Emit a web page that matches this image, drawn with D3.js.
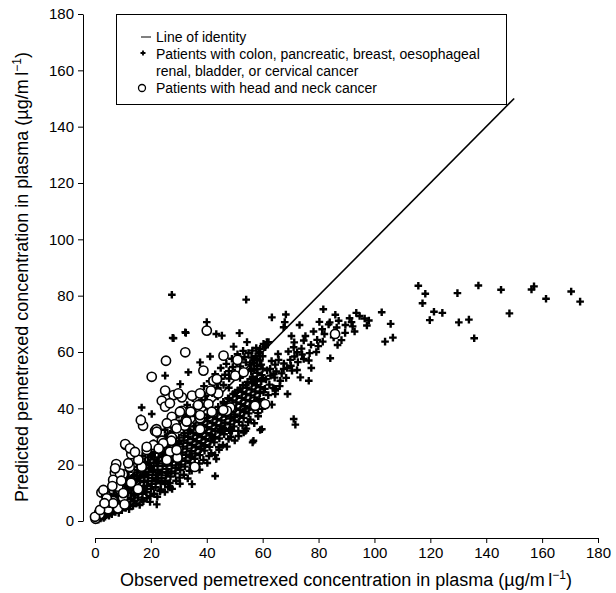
<!DOCTYPE html>
<html lang="en">
<head>
    <meta charset="UTF-8">
    <title>Observed vs predicted pemetrexed</title>
    <script src="https://d3js.org/d3.v7.min.js"></script>
    <style>
        body {
            margin: 0;
            padding: 0;
            background: #fff;
            font-family: Arial, "Liberation Sans", sans-serif;
        }
        .axis text {
            font-size: 15px;
            fill: #000;
        }
        .axis path, .axis line {
            stroke: #000;
        }
        .title {
            font-size: 18px;
        }
        .legend-text {
            font-size: 14px;
        }
    </style>
</head>
<body>
    <div id="chart"></div>
    <script>
        const width = 616;
        const height = 593;

        // Ticks
        const xTicks = [0, 20, 40, 60, 80, 100, 120, 140, 160, 180];
        const yTicks = [0, 20, 40, 60, 80, 100, 120, 140, 160, 180];

        // Line of identity end points (observed, predicted)
        const identity = [[0, 0], [150, 150]];

        // Patients with colon, pancreatic, breast, oesophageal, renal, bladder, cervical cancer
        // [observed, predicted]
        const otherCancer = [
            [115.7,83.5],[118.2,80.7],[117.2,77.3],[121.3,74.3],[124.3,73.9],[119.8,71.3],[129.7,80.9],[130.2,70.5],
            [133.8,71.5],[135.7,64.9],[137.2,83.6],[145.3,82.1],[148.3,73.7],[156.2,82.2],[157.1,83.3],[161.4,78.9],
            [170.4,81.5],[173.6,77.9],
            [102.6,74.1],[105.8,70],[103.8,63.7],[106.6,65.1],
            [63.3,72.3],[68.3,73.3],[67.9,70.6],[67.5,68.8],[73.2,69.6],[81.7,75.2],[86,73.2],[93.5,73.9],[80.3,70.7],
            [84,70.5],[81.3,68.1],[86.5,68.7],[91.1,72],[89.6,69.6],[92.2,69.1],[92.9,67.3],[96.5,71.9],[98,71.2],
            [70.3,65.7],[74.7,64.1],[77.3,62.6],[79.5,64.3],[81.5,63.7],[88.2,64.2],[86.8,62.5],[79.2,60],[84.2,57.8],
            [71.1,61.7],[72.3,59.9],[71.4,58.4],[74.1,59.1],[74.7,57.5],[76.5,57],[77.4,54.3],[69.9,57.2],[65.7,57.2],
            [64.5,55.5],[67.5,54],[68.7,54.3],[70.5,53.4],[72.3,53.6],[73.5,51],[76.5,49.8],[62.7,54],[63.9,52.2],
            [66.3,49.8],[60.3,62.9],[61.5,63.5],[60.9,61.7],[56.7,49.8],[57.9,50],[60.3,45.7],[64.5,46.3],[64.5,45.1],
            [68.9,45.1],[63.3,41.3],[71.1,36.2],[71.7,34.2],[59.7,32.6],
            [56,54],[57,56],[58,55],[59,57],[57.5,58.5],[58.5,59.5],[56.5,57],[59.5,55.5],[55.5,55.5],[57,53.5],
            [58,57.5],[60,58.5],[56,58],[59,60],
            [27.8,65],[32.3,67],[43.4,66.4],[45.4,65.8],[51.7,66.7],[49.6,61.9],[54.4,63.5],[61,62.3],[62.1,63.5],
            [41.2,58.4],[33.4,52.8],[37.6,56.3],[25.1,51.6],[30.5,48.6],[44.8,32.6],[48.4,32],[53.8,32],[59.1,32.3],
            [56.7,28.5],[42.4,29.6],[40,70.6],[27.5,80.3],[28.1,64.9],[32.5,66.8],[54.1,78.6],
            [16.7,40.3],[20.3,38],[16.4,36.5],[22.1,5.9],[26.9,11.9],[25.1,13.1],[34.7,13.1],[43,16],[43.4,22],
            [46.2,32],[49,32],[53.2,31.4],[56.4,27.9],[64.5,46.9],[22.6,16.6],[26.2,17.2],
            [0.4,0.8],[0.9,1.9],[1.2,0.5],[1.5,2.8],[1.8,1.4],[2.1,3.6],[2.4,2.2],[2.7,4.4],[2.9,1.6],[3.2,3.1],
            [3.4,5.2],[3.7,2.5],[3.9,4.1],[4.2,6.3],[4.4,3.3],[4.6,5.1],[4.9,7.4],[5.1,2.9],[5.3,4.6],[5.6,6.2],
            [5.8,8.3],[6.1,3.8],[6.3,5.4],[6.5,7.1],[6.8,9.2],[7.0,4.6],[7.2,6.5],[7.5,8.1],[7.7,10.4],[7.9,3.9],
            [8.2,5.7],[8.4,7.4],[8.6,9.3],[8.9,11.6],[9.1,4.8],[9.3,6.6],[9.5,8.5],[9.8,10.2],[10.0,12.8],[10.2,5.4],
            [10.5,7.5],[10.7,9.4],[10.9,11.3],[11.2,13.6],[11.4,6.2],[11.6,8.3],[11.9,10.1],[12.1,12.2],[12.3,14.7],
            [12.6,5.9],[12.8,7.9],[13.0,9.8],[13.3,11.7],[13.5,13.6],[13.7,15.9],[14.0,7.1],[14.2,9.0],[14.4,11.1],
            [14.7,12.9],[14.9,14.8],[15.1,17.2],[15.4,8.3],[15.6,10.4],[15.8,12.3],[16.1,14.2],[16.3,16.1],[16.5,18.6],
            [16.8,7.6],[17.0,9.7],[17.2,11.6],[17.5,13.8],[17.7,15.6],[17.9,17.5],[18.2,19.8],[18.4,10.2],[18.6,12.5],
            [18.9,14.3],[19.1,16.4],[19.3,18.6],[19.6,20.7],[19.8,8.9],[20.0,11.4],[20.3,13.2],[20.5,15.3],[20.7,17.4],
            [21.0,19.5],[21.2,21.8],[21.4,24.2],[21.7,12.0],[21.9,14.1],[22.1,16.3],[22.4,18.2],[22.6,20.4],[22.8,22.6],
            [23.1,25.1],[23.3,10.6],[23.5,13.4],[23.8,15.2],[24.0,17.3],[24.2,19.5],[24.5,21.4],[24.7,23.6],[24.9,26.3],
            [25.2,14.3],[25.4,16.2],[25.6,18.4],[25.9,20.3],[26.1,22.5],[26.3,24.6],[26.6,27.2],[26.8,13.5],[27.0,15.8],
            [27.3,17.6],[27.5,19.7],[27.7,21.9],[28.0,23.8],[28.2,26.0],[28.4,28.4],[28.7,16.9],[28.9,18.8],[29.1,21.1],
            [29.4,23.0],[29.6,25.2],[29.8,27.3],[30.1,29.6],[30.3,15.4],[30.5,18.1],[30.8,20.0],[31.0,22.2],[31.2,24.3],
            [31.5,26.4],[31.7,28.6],[31.9,31.2],[32.2,19.3],[32.4,21.4],[32.6,23.5],[32.9,25.7],[33.1,27.8],[33.3,29.9],
            [33.6,32.3],[33.8,17.8],[34.0,20.6],[34.3,22.7],[34.5,24.8],[34.7,27.0],[35.0,29.1],[35.2,31.3],[35.4,33.6],
            [35.7,22.1],[35.9,24.0],[36.1,26.2],[36.4,28.3],[36.6,30.5],[36.8,32.6],[37.1,35.0],[37.3,20.4],[37.5,23.4],
            [37.8,25.5],[38.0,27.6],[38.2,29.8],[38.5,31.9],[38.7,34.1],[38.9,36.4],[39.2,25.0],[39.4,26.9],[39.6,29.0],
            [39.9,31.2],[40.1,33.3],[40.3,35.5],[40.6,37.8],[40.8,23.1],[41.0,26.3],[41.3,28.4],[41.5,30.5],[41.7,32.6],
            [42.0,34.8],[42.2,37.0],[42.4,39.2],[42.7,27.9],[42.9,29.8],[43.1,31.9],[43.4,34.0],[43.6,36.2],[43.8,38.3],
            [44.1,40.5],[44.3,26.2],[44.5,29.3],[44.8,31.4],[45.0,33.5],[45.2,35.7],[45.5,37.8],[45.7,39.9],[45.9,42.3],
            [46.2,30.8],[46.4,32.7],[46.6,34.9],[46.9,37.1],[47.1,39.2],[47.3,41.3],[47.6,43.6],[47.8,29.1],[48.0,32.2],
            [48.3,34.3],[48.5,36.4],[48.7,38.6],[49.0,40.7],[49.2,42.8],[49.4,45.1],[49.7,33.6],[49.9,35.7],[50.1,37.8],
            [50.4,40.0],[50.6,42.1],[50.8,44.3],[51.1,46.4],[51.3,32.0],[51.5,35.2],[51.8,37.3],[52.0,39.4],[52.2,41.6],
            [52.5,43.7],[52.7,45.8],[52.9,48.2],[53.2,36.6],[53.4,38.7],[53.6,40.8],[53.9,43.0],[54.1,45.1],[54.3,47.3],
            [54.6,49.4],[54.8,35.1],[55.0,38.2],[55.3,40.3],[55.5,42.5],[55.7,44.6],[56.0,46.7],[56.2,48.9],[56.4,51.2],
            [56.7,39.6],[56.9,41.8],[57.1,43.9],[57.4,46.0],[57.6,48.2],[57.8,50.3],[58.1,52.6],[58.3,38.3],[58.5,41.1],
            [58.8,43.2],[59.0,45.4],[59.2,47.5],[59.5,49.6],[59.7,51.8],[60.0,54.1],[60.4,42.6],[60.8,46.9],[61.2,50.3],
            [61.6,53.5],[62.0,44.7],[62.4,48.4],[62.8,51.6],[63.2,56.8],[63.8,47.2],[64.3,50.9],[64.9,53.1],[65.5,59.3],
            [66.1,47.9],[66.8,52.4],[67.6,55.9],[68.4,50.8],[69.2,60.2],[70.1,55.1],[71.3,63.4],[72.6,56.4],[73.9,61.2],
            [75.3,65.7],[76.8,59.6],[78.2,67.3],[79.9,62.1],[82.1,66.4],[83.6,69.8],[85.4,65.2],[87.2,71.1],[89.5,66.8],
            [91.8,70.6],[94.7,72.8],[97.3,69.4],
            [3,6.8],[5,9.6],[7,11.8],[9,13.9],[11,16.2],[13,18.4],[15,20.5],[17,23.1],[19,25.4],[21,27.6],[23,29.8],
            [25,32.4],[27,34.1],[29,36.8],[31,38.9],[33,41.2],[35,43.6],[37,45.3],[39,47.9],[41,49.6],[43,52.1],
            [45,54.3],[47,55.8],[49,57.6],[51,59.2],[53,60.4],[4,8.1],[8,12.9],[12,17.6],[16,21.9],[20,24.6],[24,28.3],
            [28,31.7],[32,35.4],[36,39.8],[40,42.9],[44,47.2],[48,50.6],[52,54.9],[26,30.6],[30,33.9],[34,37.7],
            [38,41.6],[42,45.4],[46,48.3],[50,52.7],[54,56.3],
            [1.0,3.4],[2.0,0.9],[3.0,4.6],[3.6,1.5],[4.5,6.9],[5.0,1.9],[5.5,7.7],[6.0,2.4],[6.6,8.5],[7.3,3.2],
            [7.8,9.3],[8.5,2.9],[9.0,10.4],[9.6,3.8],[10.3,11.9],[11.0,4.6],[11.5,12.7],[12.2,4.2],[12.9,14.4],
            [13.6,5.3],[14.1,16.3],[14.8,6.2],[15.3,18.1],[16.0,5.7],[16.6,19.8],[17.3,7.0],[17.9,21.0],[18.5,8.1],
            [19.0,22.6],[19.7,6.8],[20.4,23.4],[21.1,9.7],[21.6,25.9],[22.3,8.6],[22.9,27.1],[23.6,11.2],[24.3,28.7],
            [25.0,10.3],[25.6,29.9],[26.2,12.1],[26.9,31.0],[27.6,11.4],[28.3,32.6],[29.0,14.3],[29.7,34.2],[30.4,13.2],
            [31.1,35.6],[31.8,16.4],[32.5,37.1],[33.2,15.1],[33.9,38.7],[34.6,17.9],[35.3,40.2],[36.0,19.3],[36.7,41.5],
            [37.4,18.2],[38.1,43.0],[38.8,21.7],[39.5,44.4],[40.2,20.6],[40.9,46.0],[41.6,24.1],[42.3,47.3],[43.0,23.4],
            [43.7,48.8],[44.4,25.3],[45.1,50.5],[45.8,27.0],[46.5,51.9],[47.2,26.4],[47.9,53.2],[48.6,29.9],[49.3,54.7],
            [50.0,28.6],[50.7,56.1],[51.4,30.2],[52.1,57.4],[52.8,33.9],[53.5,58.2],[54.2,32.8],[54.9,59.6],[55.6,36.0],
            [56.3,60.5],[57.0,34.7],[57.7,61.4],[58.4,37.2],[59.1,61.1],[59.8,39.8],
            [2.2,2.9],[4.0,5.7],[6.2,6.9],[8.0,9.0],[10.1,10.0],[12.0,11.2],[14.1,13.8],[16.0,15.4],[18.0,16.6],
            [20.1,18.9],[22.0,20.9],[24.1,22.8],[26.0,24.1],[28.1,25.4],[30.0,28.1],[32.0,30.3],[34.1,31.9],[36.0,33.7],
            [38.1,35.2],[40.0,36.6],[42.1,38.4],[44.0,39.3],[46.1,41.7],[48.0,43.4],[50.1,45.6],[52.0,47.1],[54.0,48.3],
            [56.1,50.4],[58.0,53.9],[60.1,50.7],
            [3.1,1.1],[5.7,3.4],[9.9,7.0],[13.9,9.5],[17.8,11.2],[21.8,14.6],[25.8,17.1],[29.9,20.1],[33.9,23.4],
            [37.9,26.4],[41.9,29.9],[45.9,33.0],[49.9,36.9],[53.9,39.9],[57.9,42.7],
            [11.7,15.1],[15.7,19.2],[19.9,23.3],[23.9,27.2],[27.9,30.1],[31.9,33.8],[35.9,37.3],[39.9,40.6],[43.9,44.2],
            [47.9,47.3],[51.9,50.8],[55.9,53.2]
        ];

        // Patients with head and neck cancer [observed, predicted]
        const headNeck = [
            [40,67.6],[32.3,59.9],[25.4,56.9],[20.3,51.2],[46,58.7],[51,57.2],[38.8,53.4],[25.1,46.3],[28.1,44.7],
            [23.9,42.7],[25.1,40.6],[31.1,43.9],[34.7,44.5],[37.6,45.3],[42.4,49.8],[43.6,50.4],[50.2,51.6],[53.2,52.8],
            [40.6,41.5],[48.4,40.3],[31.1,39.1],[27.5,37],[37.6,36.5],[32.3,33.8],[27.5,29.6],[37.6,32.6],[21.5,32],
            [23.9,28.5],[57.3,40.9],[60.9,41.5],[85.9,66.4],[17.2,33.8],[11,27],[13,23.7],[16.6,19.6],[7.6,20.2],
            [7.1,17.2],[10,16.6],[12.4,19.2],[22,32.6],[28.5,34.4],[32.1,33.8],[27.3,28.5],[29.5,22.5],[25.6,21.6],
            [35.7,19.2],[2.3,10.1],[4,8.9],[8.9,11.3],[10,8.3],[6.5,7.1],[4.7,4.2],[8.2,4.5],[1.7,2.4],[0.2,0.8],
            [10.6,5.9],[5.3,6.5],[15.4,11.3],[16.4,35.8],[10.8,27.3],[47.2,39.1],
            [29.8,45.3],[26.8,41.8],[30.4,38.8],[32.8,35.3],[29.2,32.9],[25.7,34.7],[22.1,31.7],[20.9,27],[24.4,27.6],
            [26.8,24.6],[25.7,21.7],[29.2,25.2],[37.6,37.6],[41.8,38.8],[44.1,45.3],[45.9,39.4],[6.5,14.6],[8.3,12.2],
            [10.1,9.9],[3,11],[4.2,8.1],[0,1.5],[1.8,3.9],[6.5,6.3],[8.9,16.9],[7.2,18.7],[11.9,20.5],[16.7,19.3],
            [15.5,21.7],[12.5,25.8],[18.5,25.2],[18.5,26.3],[14.3,24.5],[22.8,25.7],[12.9,13.6],[6.2,12.4],[3.4,6.3],
            [9.4,14.3],[34.2,38.8],[36.9,41.2],[41.5,46.3]
        ];

        const legendItems = [
            "Line of identity",
            "Patients with colon, pancreatic, breast, oesophageal",
            "renal, bladder, or cervical cancer",
            "Patients with head and neck cancer"
        ];

        const svg = d3.select("#chart")
            .append("svg")
            .attr("width", width)
            .attr("height", height);

        const x = d3.scaleLinear().domain([0, 180]).range([95, 598]);
        const y = d3.scaleLinear().domain([0, 180]).range([521, 14]);

        // Axes (detached from the plot origin, as in the original)
        svg.append("g")
            .attr("class", "axis")
            .attr("transform", "translate(0,538)")
            .call(d3.axisBottom(x).tickValues(xTicks).tickSize(5).tickSizeOuter(0).tickPadding(4));

        svg.append("g")
            .attr("class", "axis")
            .attr("transform", "translate(83,0)")
            .call(d3.axisLeft(y).tickValues(yTicks).tickSize(5).tickSizeOuter(0).tickPadding(4));

        // Axis titles
        const xTitle = svg.append("text")
            .attr("class", "title")
            .attr("x", 346)
            .attr("y", 586)
            .attr("text-anchor", "middle");
        xTitle.append("tspan").text("Observed pemetrexed concentration in plasma (\u00b5g/m\u2009l");
        xTitle.append("tspan").attr("dy", -7).attr("font-size", 12).text("\u22121");
        xTitle.append("tspan").attr("dy", 7).text(")");

        const yTitle = svg.append("text")
            .attr("class", "title")
            .attr("transform", "translate(28,277) rotate(-90)")
            .attr("text-anchor", "middle");
        yTitle.append("tspan").text("Predicted pemetrexed concentration in plasma (\u00b5g/m\u2009l");
        yTitle.append("tspan").attr("dy", -7).attr("font-size", 12).text("\u22121");
        yTitle.append("tspan").attr("dy", 7).text(")");

        // Line of identity
        svg.append("path")
            .datum(identity)
            .attr("fill", "none")
            .attr("stroke", "#000")
            .attr("stroke-width", 1.6)
            .attr("d", d3.line().x(d => x(d[0])).y(d => y(d[1])));

        const cross = "M-3.8,0H3.8M0,-3.8V3.8";

        svg.append("g")
            .selectAll("path")
            .data(otherCancer)
            .enter()
            .append("path")
            .attr("transform", d => `translate(${x(d[0])},${y(d[1])})`)
            .attr("d", cross)
            .attr("stroke", "#000")
            .attr("stroke-width", 2.4);

        svg.append("g")
            .selectAll("circle")
            .data(headNeck)
            .enter()
            .append("circle")
            .attr("cx", d => x(d[0]))
            .attr("cy", d => y(d[1]))
            .attr("r", 4.6)
            .attr("fill", "#fff")
            .attr("stroke", "#000")
            .attr("stroke-width", 1.6);

        // Legend
        const legend = svg.append("g");
        legend.append("rect")
            .attr("x", 116.5)
            .attr("y", 14.5)
            .attr("width", 390)
            .attr("height", 90)
            .attr("fill", "#fff")
            .attr("stroke", "#000");

        legend.selectAll("text")
            .data(legendItems)
            .enter()
            .append("text")
            .attr("class", "legend-text")
            .attr("x", 156)
            .attr("y", (d, i) => 42 + i * 17)
            .text(d => d);

        legend.append("line")
            .attr("x1", 141).attr("x2", 151)
            .attr("y1", 37).attr("y2", 37)
            .attr("stroke", "#000");
        legend.append("path")
            .attr("transform", "translate(143,53)")
            .attr("d", "M-2.5,0H2.5M0,-2.5V2.5")
            .attr("stroke", "#000")
            .attr("stroke-width", 1.8);
        legend.append("circle")
            .attr("cx", 142).attr("cy", 88).attr("r", 3.5)
            .attr("fill", "#fff").attr("stroke", "#000").attr("stroke-width", 1.3);
    </script>
</body>
</html>
